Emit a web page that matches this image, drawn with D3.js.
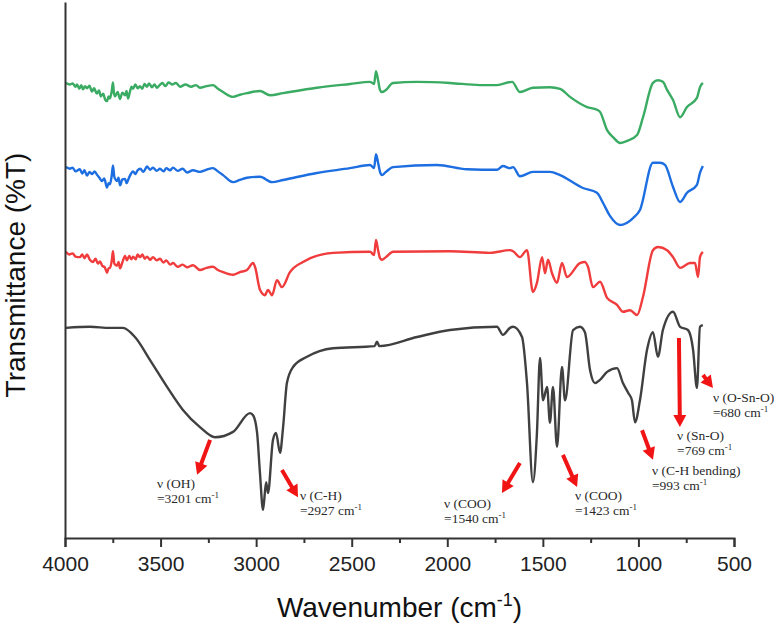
<!DOCTYPE html>
<html>
<head>
<meta charset="utf-8">
<script src="https://cdn.jsdelivr.net/npm/d3@7"></script>
<style>
  html, body { margin: 0; padding: 0; background: #fff; }
  svg { display: block; }
</style>
</head>
<body>
<svg id="chart" width="774" height="629"></svg>
<script>
// ---------- DATA (wavenumber cm-1, transmittance a.u. with vertical offsets) ----------
const xTicksMajor = [4000, 3500, 3000, 2500, 2000, 1500, 1000, 500];
const xTicksMinor = [3750, 3250, 2750, 2250, 1750, 1250, 750];

const greenSpectrum = [[3995,84.9],[3975,84.6],[3960,84.8],[3945,84.2],[3937,84.6],[3925,83.8],[3915,84.5],[3906,83.7],[3895,84.3],[3885,83.9],[3872,84.4],[3859,83.3],[3848,83.9],[3833,82.9],[3822,83.5],[3812,82.4],[3800,82.9],[3790,81.8],[3780,81.5],[3772,82.4],[3765,82.0],[3755,83.5],[3749,85.0],[3744,83.0],[3738,82.4],[3725,83.2],[3712,81.9],[3700,83.1],[3686,82.6],[3678,83.4],[3670,82.0],[3660,83.3],[3652,84.2],[3644,83.8],[3632,84.6],[3620,83.9],[3608,84.3],[3596,83.8],[3584,84.7],[3571,84.2],[3560,84.8],[3545,84.1],[3532,84.6],[3519,84.0],[3505,84.5],[3490,84.9],[3475,84.3],[3458,85.0],[3440,84.6],[3420,84.9],[3398,84.2],[3370,84.6],[3340,84.2],[3315,84.5],[3294,84.0],[3260,84.3],[3226,84.5],[3200,83.8],[3173,83.2],[3121,82.3],[3085,82.7],[3048,83.0],[2980,83.4],[2927,82.6],[2859,83.0],[2682,84.0],[2509,84.7],[2404,85.1],[2383,84.7],[2373,87.1],[2362,85.4],[2352,83.6],[2342,83.2],[2321,83.6],[2284,84.9],[2158,85.1],[1986,84.9],[1829,84.5],[1740,84.5],[1661,85.1],[1620,83.2],[1552,84.0],[1463,84.1],[1410,83.8],[1358,82.3],[1269,80.4],[1217,79.9],[1201,79.5],[1164,76.1],[1133,74.8],[1096,73.7],[1060,74.1],[1007,75.2],[976,78.5],[924,84.9],[898,85.4],[872,85.1],[850,83.6],[819,81.7],[782,78.5],[746,80.4],[694,82.1],[678,84.1],[663,84.9]];

const blueSpectrum = [[3995,69.2],[3975,68.9],[3960,69.1],[3945,68.4],[3922,68.8],[3910,68.0],[3898,68.6],[3885,67.6],[3872,68.3],[3858,67.9],[3845,68.4],[3833,67.8],[3820,67.2],[3806,66.6],[3795,67.1],[3780,65.4],[3772,66.2],[3765,66.0],[3756,67.5],[3749,69.5],[3742,67.4],[3728,66.6],[3720,67.2],[3712,65.8],[3700,66.9],[3686,67.0],[3678,66.2],[3670,66.8],[3660,67.6],[3644,68.4],[3632,67.9],[3620,68.6],[3606,68.9],[3590,68.3],[3571,69.3],[3555,68.7],[3540,69.1],[3520,68.5],[3503,68.9],[3485,68.4],[3470,69.0],[3450,68.6],[3435,69.1],[3410,68.5],[3385,68.9],[3362,68.2],[3330,68.6],[3294,68.3],[3260,68.7],[3226,69.0],[3200,68.4],[3173,67.7],[3121,66.4],[3085,66.8],[3048,67.2],[2980,67.4],[2917,66.4],[2859,66.8],[2682,68.1],[2509,69.0],[2404,69.6],[2383,69.0],[2373,71.6],[2362,70.0],[2352,68.3],[2342,67.7],[2321,68.3],[2284,69.2],[2054,69.6],[1897,68.8],[1740,68.7],[1709,69.4],[1672,69.0],[1656,69.2],[1620,67.5],[1552,68.3],[1463,68.3],[1410,67.7],[1290,65.3],[1217,64.4],[1185,62.5],[1149,60.1],[1096,58.4],[1028,59.7],[992,61.2],[924,70.0],[887,70.0],[861,69.6],[819,65.5],[782,62.7],[746,64.4],[694,65.9],[678,68.1],[663,69.4]];

const redSpectrum = [[3995,53.4],[3978,52.9],[3960,53.1],[3945,52.5],[3922,52.4],[3910,52.9],[3898,52.2],[3885,52.9],[3870,51.9],[3854,51.5],[3840,52.1],[3828,51.2],[3817,51.6],[3805,50.8],[3792,50.5],[3780,49.5],[3772,50.3],[3765,50.4],[3756,51.6],[3749,53.5],[3742,51.2],[3728,50.8],[3720,51.5],[3712,50.3],[3700,51.4],[3686,52.6],[3676,51.8],[3664,52.6],[3652,52.0],[3644,52.5],[3630,52.0],[3620,52.9],[3608,52.4],[3595,52.9],[3583,52.1],[3571,52.5],[3555,51.9],[3540,52.4],[3520,51.8],[3503,52.1],[3485,51.4],[3470,51.8],[3450,51.0],[3435,51.3],[3410,50.6],[3385,51.0],[3362,50.5],[3330,50.9],[3294,50.0],[3260,50.4],[3226,50.6],[3200,50.0],[3173,49.6],[3121,49.1],[3085,49.6],[3048,50.0],[3016,51.3],[3006,50.6],[2980,46.3],[2954,45.3],[2938,46.3],[2917,45.3],[2891,48.1],[2865,46.8],[2823,49.6],[2755,51.5],[2598,53.2],[2404,53.4],[2383,52.8],[2373,55.6],[2362,53.7],[2352,52.2],[2342,51.9],[2321,52.4],[2284,53.4],[1986,53.5],[1777,53.2],[1672,53.7],[1656,53.5],[1620,52.4],[1583,53.7],[1552,45.9],[1531,47.6],[1504,52.4],[1489,49.4],[1473,51.9],[1452,49.4],[1426,47.6],[1400,51.3],[1374,48.7],[1306,51.3],[1280,51.5],[1264,50.6],[1238,46.8],[1201,47.8],[1164,44.8],[1112,43.5],[1081,42.2],[1044,42.5],[1007,41.6],[976,45.0],[924,53.7],[898,54.3],[850,53.7],[819,52.4],[782,50.4],[730,51.3],[704,51.3],[688,48.7],[678,52.4],[663,53.4]];

const blackSpectrum = [[3995,39.2],[3869,39.4],[3765,39.2],[3697,39.2],[3634,37.5],[3555,33.2],[3466,28.2],[3383,23.9],[3294,20.7],[3215,18.8],[3121,19.8],[3032,23.3],[3016,22.9],[2995,19.6],[2980,12.1],[2964,5.2],[2948,10.4],[2938,8.4],[2912,18.3],[2896,19.6],[2875,15.9],[2859,20.7],[2839,28.9],[2807,31.9],[2734,33.8],[2598,35.4],[2380,35.8],[2368,36.6],[2355,35.8],[2158,37.5],[1986,38.8],[1740,39.4],[1709,37.9],[1672,39.2],[1656,39.4],[1609,37.5],[1583,28.9],[1552,10.4],[1531,19.6],[1515,33.6],[1499,25.7],[1478,28.2],[1463,21.5],[1447,28.2],[1426,17.0],[1400,31.9],[1384,25.7],[1342,38.8],[1306,39.4],[1280,38.4],[1253,31.3],[1227,28.9],[1201,29.5],[1164,31.0],[1112,31.7],[1081,28.9],[1054,27.1],[1034,25.7],[1018,21.6],[992,25.7],[955,35.1],[924,38.4],[898,33.8],[872,38.8],[819,42.2],[782,39.4],[741,38.8],[714,35.1],[694,28.0],[678,39.4],[663,39.7]];

// annotations: arrow from [w,v] to [w,v]; label at [w,v], two lines
const annotationLines1 = ["ν (OH)", "ν (C-H)", "ν (COO)", "ν (COO)", "ν (C-H bending)", "ν (Sn-O)", "ν (O-Sn-O)"];
const annotationLines2 = ["=3201 cm", "=2927 cm", "=1540 cm", "=1423 cm", "=993 cm", "=769 cm", "=680 cm"];
const arrowFrom = [[3241,18.3],[2865,12.7],[1620,14.0],[1395,15.5],[981,20.1],[788,37.3],[662,30.4]];
const arrowTo   = [[3309,11.8],[2781,7.6],[1714,8.4],[1321,9.5],[924,14.6],[783,20.7],[610,28.0]];
const labelAt   = [[3519,9.3],[2771,7.1],[2017,5.6],[1332,7.1],[929,11.8],[798,18.3],[610,25.4]];

// ---------- CHART ----------
const svg = d3.select("#chart");
const x = d3.scaleLinear().domain([4000, 500]).range([65, 734]);
const y = d3.scaleLinear().domain([0, 100]).range([538, 2]);

const line = d3.line()
  .x(d => x(d[0]))
  .y(d => y(d[1]))
  .curve(d3.curveMonotoneX);

const series = [
  {data: blackSpectrum, color: "#404040"},
  {data: redSpectrum, color: "#f03c3c"},
  {data: blueSpectrum, color: "#1d6ee0"},
  {data: greenSpectrum, color: "#3aab62"}
];

svg.append("g").selectAll("path")
  .data(series)
  .join("path")
  .attr("d", d => line(d.data))
  .attr("fill", "none")
  .attr("stroke", d => d.color)
  .attr("stroke-width", 2.4)
  .attr("stroke-linejoin", "round");

// axes
const axisColor = "#333";
const gx = svg.append("g").attr("transform", `translate(0,${y(0)})`)
  .call(d3.axisBottom(x).tickValues(xTicksMajor).tickSize(9).tickPadding(9).tickFormat(d3.format("d")));
gx.select(".domain").attr("stroke", axisColor).attr("stroke-width", 2);
gx.selectAll(".tick line").attr("stroke", axisColor).attr("stroke-width", 2);
gx.selectAll(".tick text")
  .attr("fill", "#222")
  .style("font-family", "'Liberation Sans', Arial, sans-serif")
  .style("font-size", "21px");

const gxm = svg.append("g").attr("transform", `translate(0,${y(0)})`)
  .call(d3.axisBottom(x).tickValues(xTicksMinor).tickSize(5).tickFormat(""));
gxm.select(".domain").remove();
gxm.selectAll(".tick line").attr("stroke", axisColor).attr("stroke-width", 2);

const gy = svg.append("g").attr("transform", `translate(${x(4000)},0)`)
  .call(d3.axisLeft(y).tickValues([]).tickSizeOuter(0));
gy.select(".domain").attr("stroke", axisColor).attr("stroke-width", 2);

// axis titles
const xt = svg.append("text")
  .attr("x", (x(4000) + x(500)) / 2)
  .attr("y", 617)
  .attr("text-anchor", "middle")
  .attr("fill", "#111")
  .style("font-family", "'Liberation Sans', Arial, sans-serif")
  .style("font-size", "28px");
xt.append("tspan").text("Wavenumber (cm");
xt.append("tspan").attr("dy", -11).style("font-size", "18px").text("-1");
xt.append("tspan").attr("dy", 11).text(")");

svg.append("text")
  .attr("transform", `translate(25,${(y(0) + y(100)) / 2 + 5}) rotate(-90)`)
  .attr("text-anchor", "middle")
  .attr("fill", "#111")
  .style("font-family", "'Liberation Sans', Arial, sans-serif")
  .style("font-size", "28px")
  .text("Transmittance (%T)");

// annotations: arrows
const arrowG = svg.append("g");
arrowFrom.forEach((f, i) => {
  const x1 = x(f[0]), y1 = y(f[1]);
  const x2 = x(arrowTo[i][0]), y2 = y(arrowTo[i][1]);
  const dx = x2 - x1, dy = y2 - y1, len = Math.hypot(dx, dy);
  const ux = dx / len, uy = dy / len, px = -uy, py = ux;
  const headL = 12, headW = 6.5, shaft = 2;
  const bx = x2 - ux * headL, by = y2 - uy * headL;
  const pts = [
    [x1 + px * shaft, y1 + py * shaft],
    [bx + px * shaft, by + py * shaft],
    [bx + px * headW, by + py * headW],
    [x2, y2],
    [bx - px * headW, by - py * headW],
    [bx - px * shaft, by - py * shaft],
    [x1 - px * shaft, y1 - py * shaft]
  ];
  arrowG.append("path")
    .attr("d", "M" + pts.map(p => p.join(",")).join("L") + "Z")
    .attr("fill", "#f01414");
});

// annotations: labels
const labG = svg.append("g")
  .style("font-family", "'Liberation Serif', 'Times New Roman', serif")
  .style("font-size", "13.5px")
  .attr("fill", "#2a2a2a");
labelAt.forEach((p, i) => {
  const tx = x(p[0]), ty = y(p[1]);
  labG.append("text").attr("x", tx).attr("y", ty).text(annotationLines1[i]);
  const t2 = labG.append("text").attr("x", tx).attr("y", ty + 15);
  t2.append("tspan").text(annotationLines2[i]);
  t2.append("tspan").attr("dy", -5).style("font-size", "9px").text("-1");
});
</script>
</body>
</html>
